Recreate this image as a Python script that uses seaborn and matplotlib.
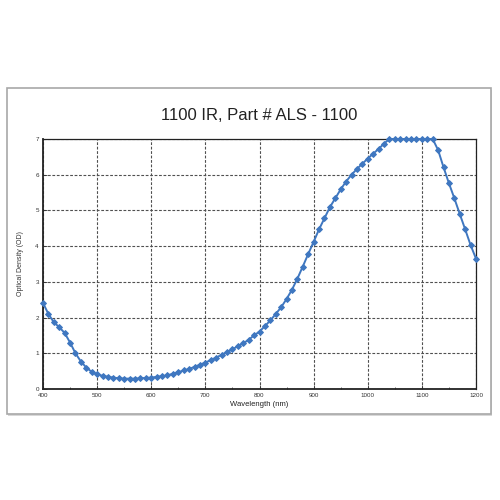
import matplotlib
matplotlib.use("Agg")
import matplotlib.pyplot as plt
import seaborn as sns
import pandas as pd
import numpy as np
from matplotlib.patches import Rectangle
from matplotlib.ticker import MultipleLocator

wavelength = list(range(400, 1201, 10))
optical_density = [
    2.41, 2.10, 1.87, 1.73, 1.57, 1.30, 1.00, 0.77, 0.60, 0.48,
    0.41, 0.37, 0.34, 0.32, 0.30, 0.29, 0.29, 0.29, 0.30, 0.31,
    0.32, 0.34, 0.36, 0.38, 0.43, 0.47, 0.52, 0.56, 0.62, 0.68,
    0.74, 0.81, 0.88, 0.96, 1.03, 1.11, 1.20, 1.28, 1.38, 1.50,
    1.61, 1.76, 1.92, 2.10, 2.29, 2.52, 2.78, 3.09, 3.43, 3.78,
    4.12, 4.47, 4.78, 5.09, 5.34, 5.59, 5.81, 6.00, 6.16, 6.31,
    6.45, 6.59, 6.72, 6.87, 7.00, 7.00, 7.00, 7.00, 7.00, 7.00,
    7.00, 7.00, 7.00, 6.69, 6.21, 5.76, 5.34, 4.90, 4.47, 4.03,
    3.65,
]
x_ticks = [400, 500, 600, 700, 800, 900, 1000, 1100, 1200]
y_ticks = [0, 1, 2, 3, 4, 5, 6, 7]
title = "1100 IR, Part # ALS - 1100"
x_label = "Wavelength (nm)"
y_label = "Optical Density (OD)"

df = pd.DataFrame({"wl": wavelength, "od": optical_density})

sns.set_theme(style="white")
plt.rcParams["font.family"] = ["Liberation Sans", "DejaVu Sans"]

fig = plt.figure(figsize=(5, 5), dpi=100)
fig.patch.set_facecolor("white")

# outer frame
shadow = Rectangle((0.016, 0.168), 0.968, 0.652, transform=fig.transFigure,
                   facecolor="#d8d8d8", edgecolor="none", zorder=-20)
frame = Rectangle((0.014, 0.172), 0.968, 0.652, transform=fig.transFigure,
                  facecolor="white", edgecolor="#a8a8a8", linewidth=1.2, zorder=-10)
fig.patches.extend([shadow, frame])

ax = fig.add_axes([0.086, 0.222, 0.866, 0.5])
ax.set_zorder(5)
ax.set_facecolor("white")
sns.lineplot(data=df, x="wl", y="od", ax=ax, color="#3f77c0", linewidth=1.4,
             marker="D", markersize=3.0, markeredgecolor="#3f77c0", zorder=3,
             clip_on=False)

ax.set_xlim(400, 1200)
ax.set_ylim(0, 7)
ax.set_xticks(x_ticks)
ax.set_yticks(y_ticks)
ax.xaxis.set_minor_locator(MultipleLocator(50))
ax.tick_params(axis="both", which="major", direction="in", length=3, width=0.6,
               labelsize=4.5, colors="#333333", pad=3)
ax.tick_params(axis="x", which="minor", direction="in", length=1.5, width=0.5)
ax.tick_params(bottom=True, left=True, which="both")
ax.grid(True, which="major", linestyle=(0, (2.5, 1.5)), color="#505050", linewidth=0.8)

for s in ax.spines.values():
    s.set_color("#222222")
    s.set_linewidth(0.9)
ax.spines["left"].set_linewidth(1.3)
ax.spines["bottom"].set_linewidth(1.3)

ax.set_xlabel(x_label, fontsize=5.5, color="#222222", labelpad=2)
ax.set_ylabel(y_label, fontsize=5, color="#333333", labelpad=8)
ax.set_title(title, fontsize=12, color="#222222", pad=14)

fig.savefig("out.png", dpi=100, facecolor="white")
